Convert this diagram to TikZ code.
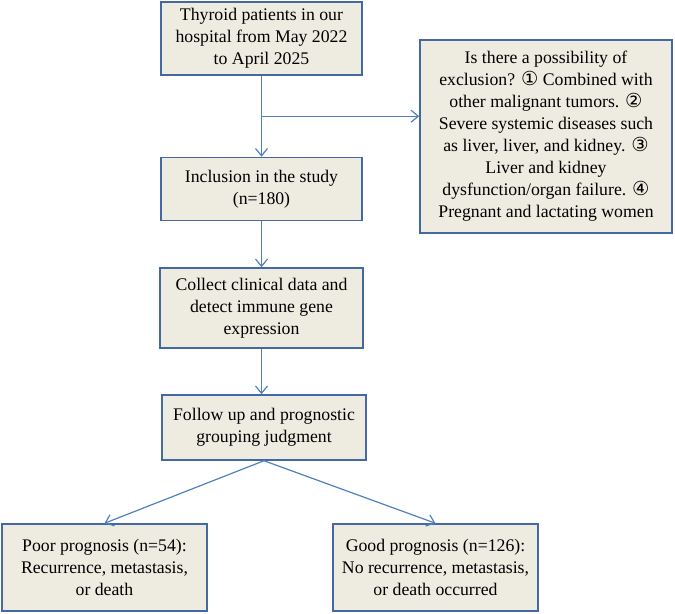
\documentclass[tikz,border=0pt]{standalone}
\usepackage{fontspec}
\setmainfont{Liberation Serif}
\newfontfamily\circfont{DejaVu Sans}
\usepackage{tikz}
\usetikzlibrary{arrows.meta, positioning, calc}
\definecolor{boxfill}{RGB}{238,236,225}
\definecolor{boxborder}{RGB}{68,104,162}
\definecolor{linkblue}{RGB}{79,129,189}
\newcommand{\cnum}[1]{{\circfont\fontsize{14.5}{16.5}\selectfont #1}}

\begin{document}
\begin{tikzpicture}[
        x=0.75pt, y=-0.75pt,
        box/.style={rectangle, draw=boxborder, fill=boxfill, line width=1.1pt,
                    minimum width=150.75pt, align=center, inner sep=2pt,
                    font=\fontsize{13.3}{16.5}\selectfont},
        arrow/.style={draw, -{Straight Barb[length=5.5pt, width=9pt]}, line width=0.9pt, linkblue}
    ]
        \useasboundingbox (0,0) rectangle (675,614);
        \node [box, minimum height=54.75pt] at (261.5,38.5) (start) {Thyroid patients in our\\hospital from May 2022\\to April 2025};
        \node [box, minimum height=47.25pt] at (261.5,189) (incl) {Inclusion in the study\\(n=180)};
        \node [box, minimum width=152.25pt, minimum height=60pt] at (261.5,308) (collect) {Collect clinical data and\\detect immune gene\\expression};
        \node [box, minimum width=153pt, minimum height=48.75pt] at (264,427.5) (follow) {Follow up and prognostic\\grouping judgment};
        \node [box, minimum width=153.75pt, minimum height=65.25pt] at (104.5,567.5) (poor) {Poor prognosis (n=54):\\Recurrence, metastasis,\\or death};
        \node [box, minimum width=153.75pt, minimum height=65.25pt] at (435.5,567.5) (good) {Good prognosis (n=126):\\No recurrence, metastasis,\\or death occurred};
        \node [box, minimum width=189pt, minimum height=144.75pt] at (546,136.5) (excl) {Is there a possibility of\\exclusion? \cnum{①} Combined with\\other malignant tumors. \cnum{②}\\Severe systemic diseases such\\as liver, liver, and kidney. \cnum{③}\\Liver and kidney\\dysfunction/organ failure. \cnum{④}\\Pregnant and lactating women};
        \coordinate (split) at ($(start.south)!0.5!(incl.north)$);
        \path [arrow] (start)   -- (incl);
        \path [arrow] (split)   -- (split -| excl.west);
        \path [arrow] (incl)    -- (collect);
        \path [arrow] (collect) -- (collect.south |- follow.north);
        \path [arrow] (follow.south) -- (poor.north);
        \path [arrow] (follow.south) -- (good.north);
    \end{tikzpicture}
\end{document}
